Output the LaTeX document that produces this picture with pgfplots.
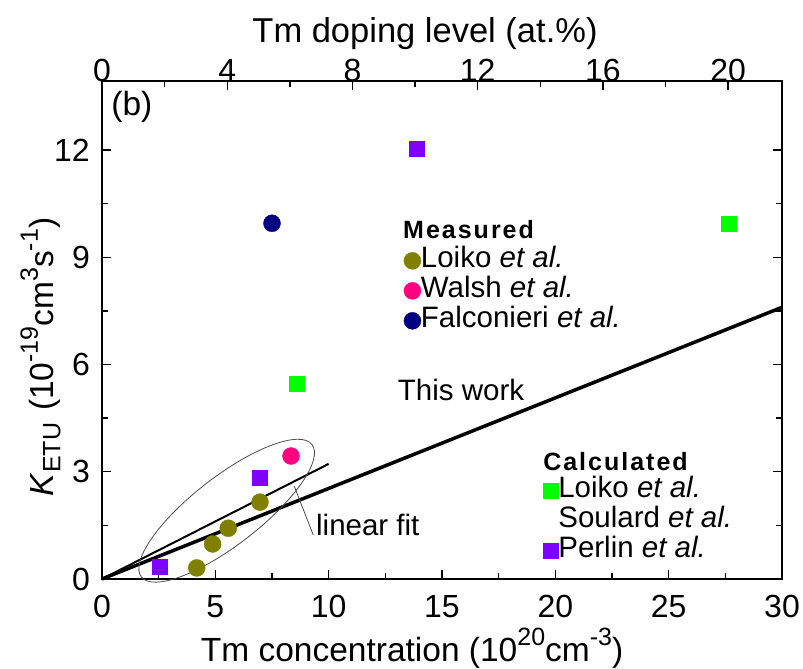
\documentclass[border=0pt]{standalone}
\usepackage{fontspec}
\setmainfont{Liberation Sans}
\newfontfamily\spacedbold[LetterSpace=8]{Liberation Sans}
\usepackage{pgfplots}
\pgfplotsset{compat=1.18}
\definecolor{colOlive}{HTML}{808000}
\definecolor{colPink}{HTML}{FF0080}
\definecolor{colNavy}{HTML}{000080}
\definecolor{colGreen}{HTML}{00FF00}
\definecolor{colPurple}{HTML}{8000FF}
\newcommand{\fbig}{\fontsize{33.5}{38}\selectfont}
\newcommand{\ftick}{\fontsize{32}{36}\selectfont}
\newcommand{\fmid}{\fontsize{29.5}{34}\selectfont}
\newcommand{\sups}[1]{\raisebox{0.45em}{\fontsize{25}{28}\selectfont #1}}
\newcommand{\subs}[1]{\raisebox{-0.22em}{\fontsize{25}{28}\selectfont #1}}
\pgfplotsset{
  mylegend/.style={
    legend image code/.code={\draw[##1] plot coordinates {(0pt,0pt)};},
    legend style={draw=none, fill=none, font=\fmid, anchor=north west,
      inner sep=0pt, outer sep=0pt, row sep=0pt,
      nodes={inner sep=0pt, text height=22pt, text depth=8pt}},
    legend cell align=left,
  },
  common/.style={
    scale only axis, width=680pt, height=498pt,
    tick align=inside, major tick length=9pt, minor tick length=6pt,
    axis line style={line width=1.6pt},
    every tick/.style={line width=1.4pt, black},
    tick label style={font=\ftick},
    label style={font=\fbig},
    /pgf/number format/assume math mode=true,
  }
}
\begin{document}
\begin{tikzpicture}
\begin{axis}[common, name=main,
  xmin=0, xmax=30, ymin=0, ymax=13.93,
  xtick={0,5,...,30}, minor x tick num=1,
  ytick={0,3,...,12}, minor y tick num=1,
  xtick pos=bottom, ytick pos=both, yticklabel pos=left,
  xticklabel style={yshift=-6pt, inner sep=2pt, yshift=-8pt},
  yticklabel style={inner sep=2pt, xshift=-10pt},
  xlabel={Tm concentration (10\sups{20}cm\sups{-3})},
  xlabel style={at={(axis description cs:0.456,-0.1647)}, anchor=base},
  ylabel={\textit{K}\subs{ETU}\hspace{0.35em}(10\sups{-19}cm\sups{3}s\sups{-1})},
  ylabel style={at={(axis description cs:-0.072,0.4458)}, anchor=base},
  mylegend,
  legend style={at={(0.444,0.669)}},
  clip=false,
]
% lines
\addplot[black, line width=3.5pt, forget plot] coordinates {(0,0) (30,7.6)};
\addplot[black, line width=2pt, forget plot] coordinates {(0,0) (10,3.22)};
% measured
\addplot[only marks, mark=*, mark size=8.5pt, color=colOlive, fill=colOlive]
  coordinates {(4.18,0.31) (4.88,0.98) (5.57,1.42) (6.97,2.15)};
\addlegendentry{Loiko \textit{et al.}}
\addplot[only marks, mark=*, mark size=8.5pt, color=colPink, fill=colPink]
  coordinates {(8.34,3.44)};
\addlegendentry{Walsh \textit{et al.}}
\addplot[only marks, mark=*, mark size=8.5pt, color=colNavy, fill=colNavy]
  coordinates {(7.5,9.95)};
\addlegendentry{Falconieri \textit{et al.}}
% calculated
\addplot[only marks, mark=square*, mark size=7.5pt, color=colGreen, fill=colGreen, forget plot]
  coordinates {(8.6,5.45) (27.66,9.95)};
\addplot[only marks, mark=square*, mark size=7.5pt, color=colPurple, fill=colPurple, forget plot]
  coordinates {(2.56,0.34) (6.97,2.82) (13.9,12.05)};
% annotations
\draw[black!70, line width=0.8pt] (axis cs:5.50,1.91) ellipse [x radius=108pt, y radius=34pt, rotate=37.8];
\draw[black!70, line width=0.8pt] (axis cs:8.48,2.60) -- (axis cs:9.32,1.23);
\node[anchor=west, font=\fmid, inner sep=0pt] at (axis cs:9.44,1.51) {linear fit};
\node[font=\fmid, inner sep=0pt] at (axis cs:15.84,5.29) {This work};
\node[font=\fbig, inner sep=0pt] at (axis cs:1.32,13.2) {(b)};
\node[anchor=west, font=\spacedbold\bfseries\fontsize{25}{28}\selectfont, inner sep=0pt] at (axis cs:13.28,9.77) {Measured};
\node[anchor=west, font=\spacedbold\bfseries\fontsize{25}{28}\selectfont, inner sep=0pt] at (axis cs:19.46,3.29) {Calculated};
\end{axis}
\begin{axis}[common,
  xmin=0, xmax=21.72, ymin=0, ymax=1,
  axis x line*=top, axis y line=none,
  xtick={0,4,...,20}, minor x tick num=1,
  xticklabel style={yshift=-4pt},
  xlabel={Tm doping level (at.\%)},
  xlabel style={at={(axis description cs:0.475,1.0783)}, anchor=base, font=\fontsize{34.5}{38}\selectfont},
  mylegend,
  legend style={at={(0.649,0.207)}},
]
\addlegendimage{only marks, mark=square*, mark size=7.5pt, color=colGreen, fill=colGreen}
\addlegendentry{Loiko \textit{et al.}}
\addlegendimage{empty legend}
\addlegendentry{Soulard \textit{et al.}}
\addlegendimage{only marks, mark=square*, mark size=7.5pt, color=colPurple, fill=colPurple}
\addlegendentry{Perlin \textit{et al.}}
\end{axis}
\pgfresetboundingbox
\path[use as bounding box] ([shift={(-102pt,-90pt)}]main.south west) rectangle ([shift={(21pt,81pt)}]main.north east);
\end{tikzpicture}
\end{document}
